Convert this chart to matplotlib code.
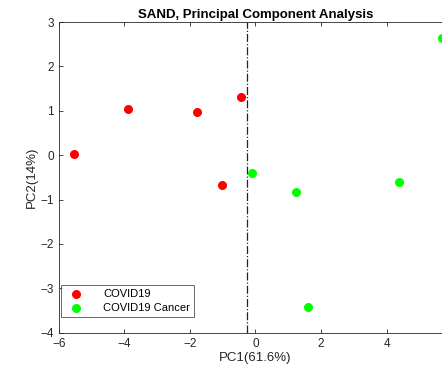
import matplotlib
matplotlib.use("Agg")
import matplotlib.pyplot as plt

plt.rcParams["font.family"] = ["Liberation Sans", "DejaVu Sans"]

# PCA scores
covid_pc1 = [-5.55, -3.88, -1.79, -0.45, -1.02]
covid_pc2 = [0.03, 1.05, 0.97, 1.31, -0.67]
cancer_pc1 = [-0.12, 1.23, 4.38, 1.59, 5.69]
cancer_pc2 = [-0.41, -0.84, -0.61, -3.41, 2.65]
split_x = -0.27

GRAY = "#262626"

fig = plt.figure(figsize=(4.42, 3.73), dpi=100)
ax = fig.add_axes([0.133, 0.108, 0.89, 0.833])

ax.scatter(covid_pc1, covid_pc2, s=30, color="#ff0000", label="COVID19", zorder=3)
ax.scatter(cancer_pc1, cancer_pc2, s=30, color="#00ff00", label="COVID19 Cancer",
           zorder=3)
ax.axvline(split_x, color="#222222", ls="-.", lw=0.9)

ax.set_xlim(-6, 6)
ax.set_ylim(-4, 3)
ax.set_xticks([-6, -4, -2, 0, 2, 4])
ax.set_yticks([-4, -3, -2, -1, 0, 1, 2, 3])
ax.tick_params(direction="in", top=True, right=True, labelsize=8.5,
               colors=GRAY, length=3, width=0.6)
for sp in ax.spines.values():
    sp.set_color(GRAY)
    sp.set_linewidth(0.6)

ax.set_xlabel("PC1(61.6%)", fontsize=9.5, color=GRAY, labelpad=2)
ax.set_ylabel("PC2(14%)", fontsize=9.5, color=GRAY, labelpad=2)
ax.set_title("SAND, Principal Component Analysis", fontsize=9.5,
             fontweight="bold", pad=3)

leg = ax.legend(loc="lower left", bbox_to_anchor=(0.005, 0.05), fontsize=8,
                frameon=True, fancybox=False, edgecolor=GRAY,
                handletextpad=1.4, borderpad=0.4, labelspacing=0.3,
                borderaxespad=0.0)
leg.get_frame().set_linewidth(0.6)

fig.savefig("out.png", dpi=100)
